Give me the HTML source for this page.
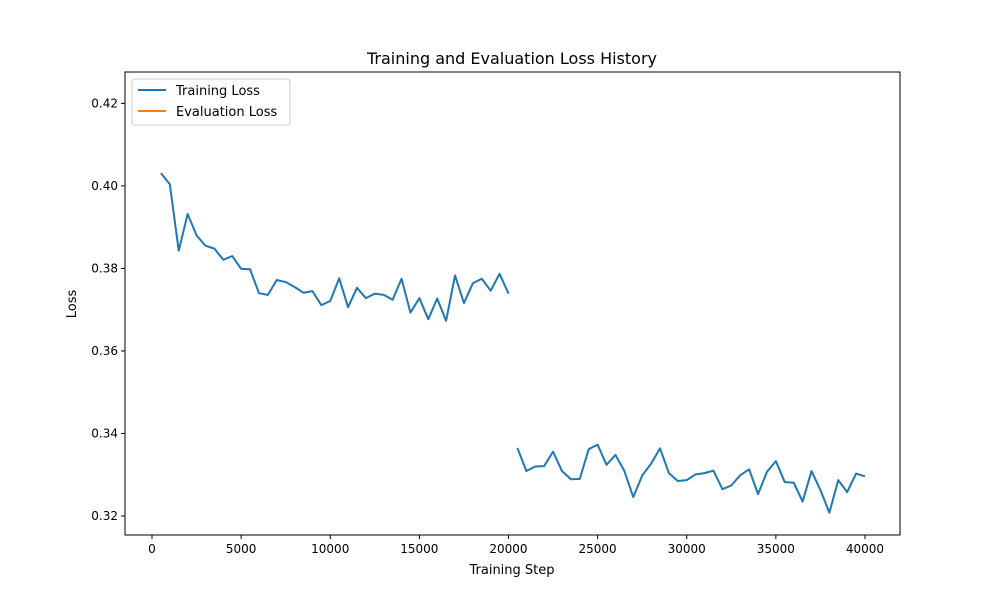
<!DOCTYPE html>
<html><head><meta charset="utf-8"><style>
body{margin:0;background:#fff;font-family:"Liberation Sans","DejaVu Sans",sans-serif}
svg text{font-family:"DejaVu Sans","Liberation Sans",sans-serif;fill:#000}
</style></head><body>
<svg id="chart" width="1000" height="600" xmlns="http://www.w3.org/2000/svg">
<rect width="1000" height="600" fill="#fff"/>
<text x="512" y="64" font-size="16" text-anchor="middle">Training and Evaluation Loss History</text>
<g id="plot"></g>
<text x="512" y="574" font-size="13" text-anchor="middle">Training Step</text>
<text x="76" y="304" font-size="13" text-anchor="middle" transform="rotate(-90 76 304)">Loss</text>
<g>
<rect x="132" y="79" width="158" height="46" rx="3" fill="#fff" stroke="#ccc"/>
<line x1="138" y1="90" x2="166" y2="90" stroke="#1f77b4" stroke-width="2"/>
<text x="176" y="95" font-size="13">Training Loss</text>
<line x1="138" y1="111" x2="166" y2="111" stroke="#ff7f0e" stroke-width="2"/>
<text x="176" y="116" font-size="13">Evaluation Loss</text>
</g>
</svg>
<script>
const trainSteps1 = [];
for (let s = 500; s <= 20000; s += 500) trainSteps1.push(s);
const trainLoss1 = [0.4031,0.4004,0.3843,0.3932,0.3880,0.3855,0.3848,0.3821,0.3830,0.3799,0.3798,0.3740,0.3736,0.3772,0.3767,0.3755,0.3741,0.3745,0.3711,0.3721,0.3776,0.3706,0.3753,0.3728,0.3739,0.3736,0.3724,0.3775,0.3693,0.3728,0.3677,0.3727,0.3673,0.3783,0.3716,0.3764,0.3775,0.3746,0.3787,0.3739];
const trainSteps2 = [];
for (let s = 20500; s <= 40000; s += 500) trainSteps2.push(s);
const trainLoss2 = [0.3365,0.3309,0.3320,0.3321,0.3356,0.3309,0.3289,0.3290,0.3362,0.3373,0.3324,0.3348,0.3309,0.3246,0.3298,0.3327,0.3364,0.3304,0.3285,0.3287,0.3301,0.3304,0.3310,0.3265,0.3274,0.3299,0.3313,0.3253,0.3307,0.3333,0.3282,0.3281,0.3235,0.3309,0.3263,0.3208,0.3287,0.3258,0.3303,0.3296];
const xTicks = [0,5000,10000,15000,20000,25000,30000,35000,40000];
const yTicks = [0.32,0.34,0.36,0.38,0.40,0.42];

const L=125,R=900,T=72,B=535;
const xMin=-1515,xMax=41964,yMin=0.3154,yMax=0.4276;
const X=v=>L+(v-xMin)/(xMax-xMin)*(R-L);
const Y=v=>B-(v-yMin)/(yMax-yMin)*(B-T);
const NS="http://www.w3.org/2000/svg";
const g=document.getElementById('plot');
function mk(t,a){const e=document.createElementNS(NS,t);for(const k in a)e.setAttribute(k,a[k]);g.appendChild(e);return e;}
const frame=mk('rect',{x:L,y:T,width:R-L,height:B-T,fill:'none',stroke:'#000','stroke-width':1});


xTicks.forEach(t=>{const x=X(t);
 const l=mk('line',{x1:x,x2:x,y1:B,y2:B+4,stroke:'#000'});
 
 
 const tx=mk('text',{x:x,y:B+18,'font-size':12,'text-anchor':'middle'});tx.textContent=t;
 
 
});
yTicks.forEach(t=>{const y=Y(t);
 const l=mk('line',{x1:L-4,x2:L,y1:y,y2:y,stroke:'#000'});
 
 
 const tx=mk('text',{x:L-7,y:y+4,'font-size':12,'text-anchor':'end'});tx.textContent=t.toFixed(2);
 
 
});
function line(xs,ys,name){
 const p=mk('polyline',{points:xs.map((s,i)=>X(s)+','+Y(ys[i])).join(' '),fill:'none',stroke:'#1f77b4','stroke-width':2,'stroke-linejoin':'round'});
 
 
}
line(trainSteps1,trainLoss1,'training-loss-line-1');
line(trainSteps2,trainLoss2,'training-loss-line-2');
</script>
</body></html>
